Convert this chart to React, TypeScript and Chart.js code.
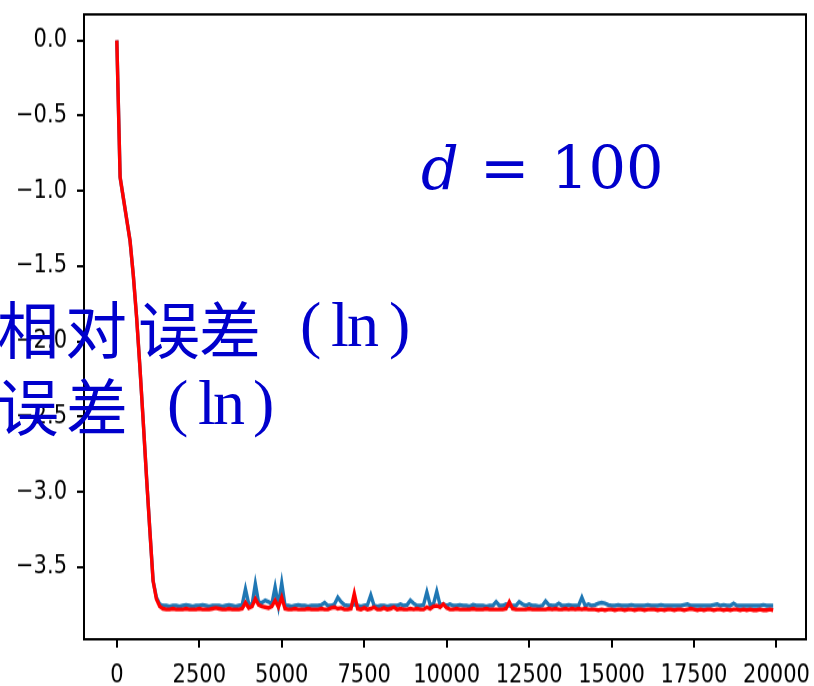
import React, { useEffect, useRef } from 'react';
import { Chart, registerables } from 'chart.js';

Chart.register(...registerables);

// ---- data ----
const STEP = 100; // iterations between recorded points (0 .. 19900)

const blueSeries = [
  0, -0.91, -1.05, -1.19, -1.33, -1.56, -1.84, -2.17, -2.53, -2.90,
  -3.25, -3.59, -3.70, -3.745, -3.755, -3.755, -3.76, -3.755, -3.755, -3.76,
  -3.755, -3.75, -3.755, -3.76, -3.755, -3.755, -3.75, -3.755, -3.76, -3.755,
  -3.755, -3.755, -3.76, -3.755, -3.75, -3.755, -3.76, -3.755, -3.75, -3.645,
  -3.745, -3.75, -3.61, -3.735, -3.735, -3.72, -3.73, -3.745, -3.63, -3.755,
  -3.605, -3.755, -3.755, -3.76, -3.755, -3.75, -3.755, -3.755, -3.76, -3.755,
  -3.755, -3.755, -3.75, -3.735, -3.755, -3.755, -3.745, -3.70, -3.73, -3.75,
  -3.755, -3.755, -3.745, -3.755, -3.76, -3.755, -3.75, -3.685, -3.755, -3.76,
  -3.755, -3.755, -3.76, -3.755, -3.755, -3.755, -3.745, -3.755, -3.75, -3.72,
  -3.74, -3.755, -3.755, -3.75, -3.665, -3.75, -3.745, -3.66, -3.75, -3.745,
  -3.755, -3.745, -3.755, -3.755, -3.75, -3.755, -3.755, -3.76, -3.75, -3.755,
  -3.755, -3.755, -3.76, -3.755, -3.755, -3.73, -3.755, -3.755, -3.745, -3.755,
  -3.755, -3.755, -3.73, -3.745, -3.755, -3.745, -3.755, -3.755, -3.76, -3.755,
  -3.725, -3.75, -3.755, -3.755, -3.74, -3.755, -3.755, -3.75, -3.755, -3.755,
  -3.755, -3.70, -3.755, -3.745, -3.755, -3.75, -3.74, -3.735, -3.74, -3.75,
  -3.755, -3.755, -3.75, -3.755, -3.755, -3.755, -3.75, -3.755, -3.755, -3.755,
  -3.755, -3.75, -3.755, -3.755, -3.755, -3.75, -3.755, -3.755, -3.755, -3.755,
  -3.755, -3.755, -3.75, -3.745, -3.755, -3.755, -3.755, -3.755, -3.755, -3.755,
  -3.755, -3.75, -3.745, -3.755, -3.75, -3.755, -3.755, -3.74, -3.755, -3.755,
  -3.755, -3.755, -3.755, -3.755, -3.755, -3.755, -3.75, -3.755, -3.755, -3.755,
];

const redSeries = [
  0, -0.91, -1.05, -1.19, -1.33, -1.56, -1.84, -2.17, -2.53, -2.90,
  -3.25, -3.59, -3.71, -3.76, -3.775, -3.78, -3.78, -3.775, -3.78, -3.78,
  -3.78, -3.775, -3.78, -3.78, -3.78, -3.775, -3.78, -3.78, -3.78, -3.775,
  -3.77, -3.775, -3.78, -3.78, -3.775, -3.78, -3.78, -3.78, -3.775, -3.735,
  -3.77, -3.76, -3.71, -3.75, -3.76, -3.765, -3.77, -3.76, -3.72, -3.765,
  -3.70, -3.775, -3.78, -3.78, -3.775, -3.78, -3.78, -3.78, -3.775, -3.78,
  -3.78, -3.78, -3.775, -3.78, -3.78, -3.77, -3.765, -3.775, -3.77, -3.78,
  -3.78, -3.775, -3.675, -3.775, -3.78, -3.77, -3.78, -3.775, -3.765, -3.78,
  -3.78, -3.77, -3.78, -3.775, -3.765, -3.78, -3.775, -3.78, -3.78, -3.775,
  -3.78, -3.775, -3.78, -3.78, -3.765, -3.775, -3.76, -3.755, -3.765, -3.745,
  -3.77, -3.78, -3.78, -3.775, -3.78, -3.78, -3.78, -3.78, -3.775, -3.78,
  -3.78, -3.78, -3.775, -3.78, -3.78, -3.78, -3.78, -3.78, -3.775, -3.73,
  -3.775, -3.78, -3.78, -3.78, -3.78, -3.775, -3.78, -3.78, -3.78, -3.78,
  -3.78, -3.775, -3.78, -3.775, -3.78, -3.78, -3.775, -3.78, -3.775, -3.78,
  -3.775, -3.78, -3.775, -3.78, -3.78, -3.78, -3.785, -3.78, -3.785, -3.78,
  -3.78, -3.785, -3.78, -3.78, -3.785, -3.78, -3.78, -3.785, -3.78, -3.78,
  -3.785, -3.78, -3.78, -3.78, -3.785, -3.78, -3.785, -3.78, -3.78, -3.785,
  -3.78, -3.78, -3.785, -3.78, -3.775, -3.78, -3.785, -3.78, -3.785, -3.78,
  -3.78, -3.785, -3.78, -3.78, -3.785, -3.78, -3.785, -3.78, -3.78, -3.785,
  -3.78, -3.785, -3.78, -3.785, -3.785, -3.78, -3.785, -3.785, -3.78, -3.785,
];

const xTickValues = [0, 2500, 5000, 7500, 10000, 12500, 15000, 17500, 20000];
const yTickValues = [-3.5, -3.0, -2.5, -2.0, -1.5, -1.0, -0.5, 0.0];

const X_MIN = -995;
const X_MAX = 20895;
const Y_MIN = -3.978;
const Y_MAX = 0.172;

// overlay annotations
const annotationParam = ['d', '=', '100'];
const annotationLine1 = ['相', '对', '误', '差'];
const annotationLine2 = ['误', '差'];
const annotationUnit = ['(', 'l', 'n', ')'];

// ---- layout ----
const W = 814;
const H = 686;
const CH = 572; // chart drawn at this height, then stretched vertically
const SY = H / CH;
const BLUE_TEXT = '#0000CC';

const minusFmt = (v: number) => v.toFixed(1).replace('-', '\u2212');

const framePlugin = {
  id: 'frame',
  afterDraw(chart: any) {
    const { ctx, chartArea: a } = chart;
    ctx.save();
    ctx.strokeStyle = '#000';
    ctx.lineWidth = 2;
    ctx.strokeRect(a.left, a.top, a.right - a.left, a.bottom - a.top);
    ctx.restore();
  },
};

function drawOverlay(canvas: HTMLCanvasElement) {
  const ctx = canvas.getContext('2d');
  if (!ctx) return;
  ctx.clearRect(0, 0, W, H);
  ctx.fillStyle = BLUE_TEXT;
  ctx.textBaseline = 'alphabetic';
  ctx.textAlign = 'left';

  // d = 100
  ctx.font = 'italic 59px "DejaVu Serif"';
  ctx.fillText(annotationParam[0], 421, 189);
  ctx.font = '59px "DejaVu Serif"';
  ctx.fillText(annotationParam[1], 480, 189);
  ctx.fillText(annotationParam[2], 551, 189);

  // 相对误差 (ln)
  ctx.font = '62px "Noto Sans CJK SC"';
  const l1x = [-3, 65, 138, 199];
  annotationLine1.forEach((c, i) => ctx.fillText(c, l1x[i], 354));
  const l2x = [-3, 66];
  annotationLine2.forEach((c, i) => ctx.fillText(c, l2x[i], 431));

  ctx.font = '64px "Liberation Serif"';
  const u1x = [300, 331, 347, 389];
  annotationUnit.forEach((c, i) => ctx.fillText(c, u1x[i], 346));
  const u2x = [167, 198, 213, 253];
  annotationUnit.forEach((c, i) => ctx.fillText(c, u2x[i], 424));
}

export default function App() {
  const chartRef = useRef<HTMLCanvasElement | null>(null);
  const textRef = useRef<HTMLCanvasElement | null>(null);

  useEffect(() => {
    if (!chartRef.current) return;
    const toPoints = (arr: number[]) => arr.map((v, i) => ({ x: i * STEP, y: v }));
    const tickFont = { family: '"DejaVu Sans"', size: 21 };
    const chart = new Chart(chartRef.current, {
      type: 'line',
      data: {
        datasets: [
          {
            label: 'red',
            data: toPoints(redSeries),
            borderColor: '#ff0000',
            borderWidth: 3.4,
            pointRadius: 0,
            tension: 0,
            fill: false,
            order: 0,
          },
          {
            label: 'blue',
            data: toPoints(blueSeries),
            borderColor: '#1f77b4',
            borderWidth: 3.4,
            pointRadius: 0,
            tension: 0,
            fill: false,
            order: 1,
          },
        ],
      },
      options: {
        animation: false,
        responsive: false,
        events: [],
        layout: { padding: { top: 12, right: 8, left: 0, bottom: 0 } },
        plugins: {
          legend: { display: false },
          tooltip: { enabled: false },
        },
        scales: {
          x: {
            type: 'linear',
            min: X_MIN,
            max: X_MAX,
            afterBuildTicks: (s: any) => {
              s.ticks = xTickValues.map((v) => ({ value: v }));
            },
            afterFit: (s: any) => {
              s.height = 39;
              s.paddingLeft = 0;
              s.paddingRight = 0;
              s.paddingTop = 0;
              s.paddingBottom = 0;
            },
            ticks: {
              callback: (v: any) => String(v),
              font: tickFont,
              color: '#000',
              padding: 11,
              maxRotation: 0,
              autoSkip: false,
            },
            grid: {
              display: true,
              drawOnChartArea: false,
              drawTicks: true,
              tickLength: 7,
              color: '#000',
              lineWidth: 2,
            },
            border: { display: false },
          },
          y: {
            type: 'linear',
            min: Y_MIN,
            max: Y_MAX,
            afterBuildTicks: (s: any) => {
              s.ticks = yTickValues.map((v) => ({ value: v }));
            },
            afterFit: (s: any) => {
              s.width = 84;
              s.paddingLeft = 0;
              s.paddingRight = 0;
              s.paddingTop = 0;
              s.paddingBottom = 0;
            },
            ticks: {
              callback: (v: any) => minusFmt(Number(v)),
              font: tickFont,
              color: '#000',
              padding: 10,
              autoSkip: false,
            },
            grid: {
              display: true,
              drawOnChartArea: false,
              drawTicks: true,
              tickLength: 7,
              color: '#000',
              lineWidth: 2,
            },
            border: { display: false },
          },
        },
      },
      plugins: [framePlugin],
    } as any);

    const tc = textRef.current;
    if (tc) {
      drawOverlay(tc);
      if ((document as any).fonts && (document as any).fonts.ready) {
        (document as any).fonts.ready.then(() => drawOverlay(tc));
      }
    }
    return () => chart.destroy();
  }, []);

  return (
    <div
      style={{
        position: 'fixed',
        left: 0,
        top: 0,
        width: W,
        height: H,
        background: '#fff',
        overflow: 'hidden',
      }}
    >
      <div
        style={{
          position: 'absolute',
          left: 0,
          top: 0,
          width: W,
          height: CH,
          transform: `scaleY(${SY})`,
          transformOrigin: '0 0',
        }}
      >
        <canvas ref={chartRef} width={W} height={CH} style={{ display: 'block' }} />
      </div>
      <canvas
        ref={textRef}
        width={W}
        height={H}
        style={{ position: 'absolute', left: 0, top: 0, pointerEvents: 'none' }}
      />
    </div>
  );
}
